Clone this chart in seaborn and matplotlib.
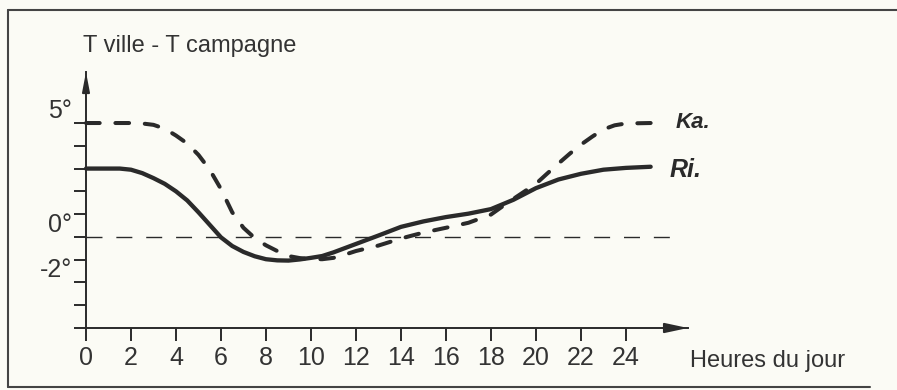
import matplotlib
matplotlib.use("Agg")
import matplotlib.pyplot as plt
import seaborn as sns
import pandas as pd
from matplotlib.lines import Line2D

# Ecart de température ville - campagne au cours de la journée
hours_ri = [0, 1, 1.5, 2, 2.5, 3, 3.5, 4, 4.5, 5, 5.5, 6, 6.5, 7, 7.5, 8, 8.5, 9,
            9.5, 10, 10.5, 11, 12, 13, 14, 15, 16, 17, 18, 19, 20, 21, 22, 23, 24, 25.1]
ecart_ri = [3.0, 3.0, 3.0, 2.95, 2.8, 2.58, 2.33, 2.0, 1.6, 1.08, 0.53, -0.02, -0.40,
            -0.66, -0.85, -0.98, -1.03, -1.04, -0.99, -0.92, -0.84, -0.68, -0.31, 0.06,
            0.44, 0.68, 0.87, 1.02, 1.22, 1.63, 2.14, 2.52, 2.77, 2.95, 3.03, 3.08]

hours_ka = [0, 1, 2, 2.5, 3, 3.5, 4, 4.5, 5, 5.5, 6, 6.5, 7, 7.5, 8, 8.5, 9, 9.5, 10,
            10.5, 11, 11.5, 12, 13, 14, 15, 16, 17, 18, 18.5, 19, 19.5, 20, 20.5, 21,
            21.5, 22, 22.5, 23, 23.5, 24, 25.1]
ecart_ka = [5.0, 5.0, 5.0, 4.98, 4.92, 4.75, 4.45, 4.1, 3.6, 2.95, 2.1, 1.08, 0.4,
            -0.05, -0.37, -0.62, -0.84, -0.93, -0.97, -0.98, -0.92, -0.78, -0.62, -0.38,
            -0.07, 0.19, 0.40, 0.62, 0.98, 1.33, 1.67, 2.0, 2.33, 2.78, 3.22, 3.65, 4.05,
            4.40, 4.72, 4.90, 4.98, 5.0]

x_ticks = list(range(0, 26, 2))
y_ticks = list(range(-4, 6))
y_tick_text = {5: "5°", 0: "0°", -2: "-2°"}

sns.set_style("white")
plt.rcParams["font.family"] = ["Liberation Sans", "DejaVu Sans"]

ink = "#2a2a2a"
paper = "#fbfbf5"

fig = plt.figure(figsize=(8.97, 3.90), dpi=100, facecolor=paper)
ax = fig.add_axes([86 / 897, 62 / 390, 602 / 897, 256 / 390])
ax.set_facecolor(paper)

ri = pd.DataFrame({"heure": hours_ri, "ecart": ecart_ri})
ka = pd.DataFrame({"heure": hours_ka, "ecart": ecart_ka})

sns.lineplot(data=ri, x="heure", y="ecart", ax=ax, color=ink, lw=3.1,
             solid_capstyle="round", solid_joinstyle="round", clip_on=False)
sns.lineplot(data=ka, x="heure", y="ecart", ax=ax, color=ink, lw=2.9,
             dash_capstyle="round", clip_on=False)
ax.lines[-1].set_dashes((3.4, 3.9))

# reference line at 0°
ax.axhline(0, xmin=0, xmax=26.5 / 26.76, color=ink, lw=1.0, dashes=(11.5, 10))

ax.set_xlim(0, 26.76)
ax.set_ylim(-4, 7.24)
ax.set_xlabel("")
ax.set_ylabel("")

for side in ("top", "right"):
    ax.spines[side].set_visible(False)
for side in ("left", "bottom"):
    ax.spines[side].set_color(ink)
    ax.spines[side].set_linewidth(1.4)

ax.set_xticks(x_ticks)
ax.set_xticklabels([str(t) for t in x_ticks])
ax.set_yticks(y_ticks)
ax.set_yticklabels([y_tick_text.get(t, "") for t in y_ticks])
ax.tick_params(axis="both", direction="out", length=9, width=1.4, color=ink,
               labelcolor="#333333", labelsize=18, bottom=True, left=True)
ax.tick_params(axis="x", pad=4)
ax.tick_params(axis="y", pad=1)
for lbl in ax.get_yticklabels():
    lbl.set_verticalalignment("bottom")

# arrow heads on both axes
ax.annotate("", xy=(1, 0), xycoords="axes fraction", xytext=(0.96, 0),
            arrowprops=dict(arrowstyle="-|>,head_length=1.4,head_width=0.3",
                            color=ink, lw=1.4, shrinkA=0, shrinkB=0, mutation_scale=10))
ax.annotate("", xy=(0, 1), xycoords="axes fraction", xytext=(0, 0.93),
            arrowprops=dict(arrowstyle="-|>,head_length=1.15,head_width=0.22",
                            color=ink, lw=1.4, shrinkA=0, shrinkB=0, mutation_scale=10))

# series labels
ax.text(26.2, 5.04, "Ka.", fontsize=16, fontstyle="italic", fontweight="bold",
        color=ink, va="center", ha="left")
ax.text(25.96, 2.94, "Ri.", fontsize=18, fontstyle="italic", fontweight="bold",
        color=ink, va="center", ha="left")

fig.text(83 / 897, (390 - 52) / 390, "T ville - T campagne", fontsize=17,
         color="#333333", va="baseline", ha="left")
fig.text(690 / 897, (390 - 367) / 390, "Heures du jour", fontsize=17,
         color="#333333", va="baseline", ha="left")

# frame
frame = dict(transform=fig.transFigure, color="#444444", lw=1.5)
fig.add_artist(Line2D([8 / 897, 8 / 897], [3 / 390, 380 / 390], **frame))
fig.add_artist(Line2D([8 / 897, 1.0], [380 / 390, 380 / 390], **frame))
fig.add_artist(Line2D([8 / 897, 870 / 897], [3 / 390, 3 / 390], **frame))

fig.savefig("out.png", dpi=100, facecolor=paper)
